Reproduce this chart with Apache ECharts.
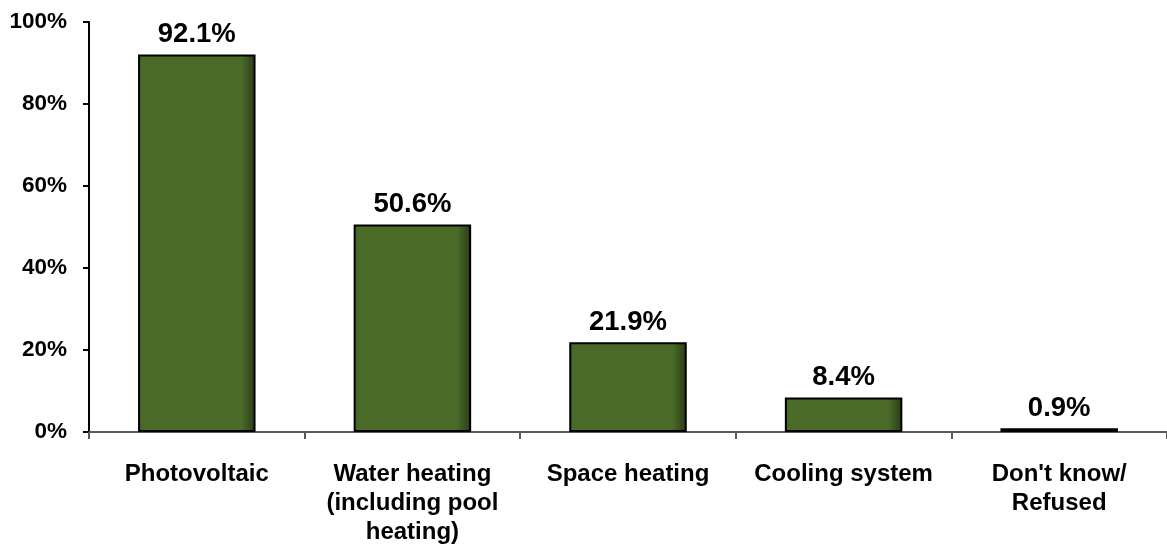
<!DOCTYPE html>
<html><head><meta charset="utf-8">
<script src="https://cdn.jsdelivr.net/npm/echarts@6/dist/echarts.min.js"></script>
<style>html,body{margin:0;padding:0;background:#fff;overflow:hidden}#c{width:1167px;height:549px}</style>
</head><body><div id="c"></div>
<script>
const categories = ["Photovoltaic", "Water heating\n(including pool\nheating)", "Space heating", "Cooling system", "Don't know/\nRefused"];
const values = [92.1, 50.6, 21.9, 8.4, 0.9];
const yTicks = [0, 20, 40, 60, 80, 100];

const chart = echarts.init(document.getElementById('c'), null, {renderer: 'canvas'});
const font = '"Liberation Sans", Arial, sans-serif';
chart.setOption({
  animation: false,
  grid: {left: 89, width: 1083, top: 22, bottom: 117, containLabel: false},
  xAxis: {
    type: 'category', data: categories,
    axisLine: {lineStyle: {color: '#595959', width: 2}},
    axisTick: {show: true, length: 7, lineStyle: {color: '#595959', width: 2}},
    axisLabel: {color: '#000', fontFamily: font, fontWeight: 'bold', fontSize: 24, lineHeight: 29, margin: 28, interval: 0}
  },
  yAxis: {
    type: 'value', min: 0, max: 100, interval: 20,
    splitLine: {show: false},
    axisLine: {show: true, lineStyle: {color: '#000', width: 2}},
    axisTick: {show: true, inside: false, length: 6, lineStyle: {color: '#000', width: 2}},
    axisLabel: {color: '#000', fontFamily: font, fontWeight: 'bold', fontSize: 22.5, margin: 22,
      formatter: v => yTicks.includes(v) ? v + '%' : ''}
  },
  series: [{
    type: 'bar', data: values, barWidth: '54.5%',
    itemStyle: {
      color: new echarts.graphic.LinearGradient(0, 0, 1, 0, [
        {offset: 0, color: '#445f24'}, {offset: 0.04, color: '#4a6b28'},
        {offset: 0.88, color: '#4a6b28'}, {offset: 1, color: '#2a3a17'}
      ]),
      borderColor: '#000', borderWidth: 2
    },
    label: {show: true, position: 'top', distance: 6, color: '#000', fontFamily: font, fontWeight: 'bold', fontSize: 27.5,
      formatter: p => p.value.toFixed(1) + '%'}
  }]
});
</script></body></html>
